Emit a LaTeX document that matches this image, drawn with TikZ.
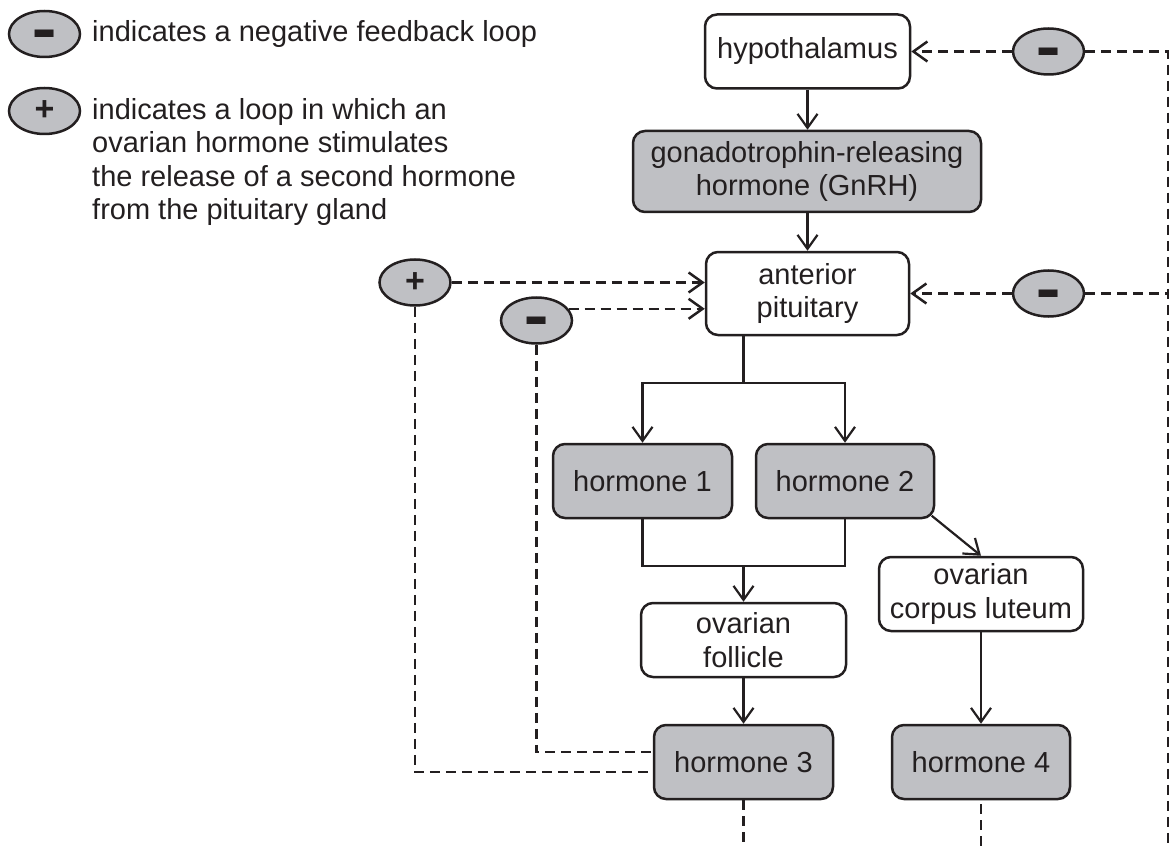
\documentclass[tikz,border=0pt]{standalone}
\usepackage{fontspec}
\setmainfont{Liberation Sans}
\usetikzlibrary{arrows.meta,shapes.geometric}
\definecolor{fbgray}{RGB}{191,192,196}
\definecolor{fbink}{RGB}{35,31,32}
\newcommand{\fbminus}{\raisebox{-23pt}[0pt][0pt]{\scalebox{1.05}[1.9]{−}}}

\begin{document}
\begin{tikzpicture}[x=1pt,y=-1pt,
  every node/.style={font=\fontsize{29}{33.5}\selectfont,text=fbink},
  box/.style={draw=fbink,line width=2.5pt,rounded corners=12pt,align=center,
    inner sep=0pt,minimum height=74pt},
  greybox/.style={box,fill=fbgray},
  sign/.style={ellipse,draw=fbink,fill=fbgray,line width=2.5pt,minimum width=71pt,
    minimum height=46pt,inner sep=0pt,font=\fontsize{36}{36}\selectfont\bfseries},
  plussign/.style={sign,font=\fontsize{34}{34}\selectfont\bfseries},
  flow/.style={draw=fbink,line width=2.2pt,-{Straight Barb[length=14pt,width=20pt]}},
  link/.style={draw=fbink,line width=2.2pt},
  fb/.style={draw=fbink,line width=2.5pt,dash pattern=on 10pt off 6pt},
  fbarrow/.style={fb,-{Straight Barb[length=14pt,width=20pt]}}]
  \useasboundingbox (0,0) rectangle (1171,848);
  % key
  \node[sign] (legminus) at (44.5,34) {\fbminus};
  \node[anchor=base west,inner sep=0pt] (legminustxt) at (92,42)
    {indicates a negative feedback loop};
  \node[plussign] (legplus) at (44.5,111) {+};
  \node[anchor=north west,inner sep=0pt,align=left] (legplustxt) at (92,98)
    {indicates a loop in which an\\ovarian hormone stimulates\\
     the release of a second hormone\\from the pituitary gland};
  % glands and hormones
  \node[box,minimum width=205pt] (hyp) at (807.5,51.5) {hypothalamus};
  \node[greybox,minimum width=348pt,minimum height=81pt] (gnrh) at (807,171.5)
    {gonadotrophin-releasing\\hormone (GnRH)};
  \node[box,minimum width=203pt,minimum height=83pt] (ant) at (807.5,293.5)
    {anterior\\pituitary};
  \node[greybox,minimum width=179pt] (h1) at (642.5,481) {hormone 1};
  \node[greybox,minimum width=178pt] (h2) at (845,481) {hormone 2};
  \node[box,minimum width=205pt] (fol) at (743.5,640) {ovarian\\follicle};
  \node[box,minimum width=204pt] (lut) at (981,594) {ovarian\\corpus luteum};
  \node[greybox,minimum width=179pt] (h3) at (743.5,762) {hormone 3};
  \node[greybox,minimum width=178pt] (h4) at (981,762) {hormone 4};
  % feedback signs
  \node[sign] (hypminus) at (1048.5,51.5) {\fbminus};
  \node[sign] (antminus) at (1048.5,293.5) {\fbminus};
  \node[plussign] (antplus) at (415,282.5) {+};
  \node[sign] (folminus) at (536.5,320.5) {\fbminus};
  \coordinate (split) at (743.5,383);
  \coordinate (join) at (743.5,566);
  \coordinate (rside) at (1168,848);
  % main chain
  \draw[flow] (hyp.south) -- (hyp.south |- gnrh.north);
  \draw[flow] (gnrh.south -| ant.south) -- (ant.north);
  \draw[link] (ant.south -| split) -- (split);
  \draw[flow] (split) -| (h1.north);
  \draw[flow] (split) -| (h2.north);
  \draw[link] (h1.south) |- (join);
  \draw[link] (h2.south) |- (join);
  \draw[flow] (join) -- (fol.north);
  \draw[flow] ([xshift=-3.5pt,yshift=3.5pt]h2.south east) -- (lut.north);
  \draw[flow] (fol) -- (h3);
  \draw[flow] (lut) -- (h4);
  % feedback loops
  \draw[fbarrow] (hypminus) -- (hyp);
  \draw[fb] (hypminus) -- (hypminus -| rside) -- (rside);
  \draw[fbarrow] (antminus) -- (ant);
  \draw[fb] (antminus) -- (antminus -| rside);
  \draw[fbarrow] (antplus) -- (antplus -| ant.west);
  \draw[fbarrow] (folminus.20) -- (folminus.20 -| ant.west);
  \draw[fb] (antplus.south) |- ([yshift=-10pt]h3.west);
  \draw[fb] (folminus.south) |- ([yshift=10pt]h3.west);
  \draw[fb] (h3.south) -- (h3.south |- rside);
  \draw[fb] ([yshift=-4pt]h4.south) -- (h4.south |- rside);
\end{tikzpicture}
\end{document}
